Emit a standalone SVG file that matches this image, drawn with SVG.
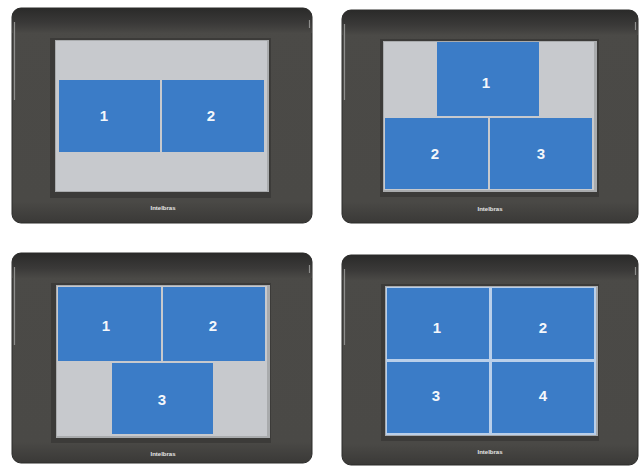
<svg xmlns="http://www.w3.org/2000/svg" width="644" height="466" viewBox="0 0 644 466">
<defs>
<linearGradient id="topband" x1="0" y1="0" x2="0" y2="1">
<stop offset="0" stop-color="#2a2a29"/>
<stop offset="0.6" stop-color="#3a3938"/>
<stop offset="1" stop-color="#4a4946"/>
</linearGradient>
<linearGradient id="bodyg" x1="0" y1="0" x2="0" y2="1">
<stop offset="0" stop-color="#4b4a47"/>
<stop offset="0.9" stop-color="#4a4946"/>
<stop offset="1" stop-color="#3a3937"/>
</linearGradient>
<style>
.body{fill:url(#bodyg);stroke:#2c2c2b;stroke-width:1}
.band{fill:url(#topband)}
.hl{stroke:#8f8f8d;stroke-width:1.2;fill:none}
.recess{fill:#3c3b39}
.frame{fill:#a9abad}
.scr{fill:#c7c9cd}
.tile{fill:#3b7cc7}
.num{font-family:"Liberation Sans",Arial,sans-serif;font-size:15px;font-weight:bold;fill:#f4f7fb;text-anchor:middle}
.logo{font-family:"Liberation Sans",Arial,sans-serif;font-size:6px;font-weight:bold;fill:#e6e6e6;text-anchor:middle}
</style>
</defs>
<rect width="644" height="466" fill="#ffffff"/>

<g id="panel1">
<rect class="body" x="12" y="8" width="300" height="215" rx="9"/>
<path class="band" d="M21,8 H303 A9,9 0 0 1 312,17 V33 H12 V17 A9,9 0 0 1 21,8 Z"/>
<path class="hl" d="M14.5,22 V100"/>
<path class="hl" d="M309.5,20 V28"/>
<rect class="recess" x="50" y="38" width="221" height="160"/>
<rect class="frame" x="55" y="40" width="214" height="152"/>
<rect class="scr" x="56" y="41" width="211" height="150"/>
<rect class="tile" x="59" y="80" width="101" height="72"/>
<rect class="tile" x="162" y="80" width="102" height="72"/>
<text class="num" x="104" y="121">1</text>
<text class="num" x="211" y="121">2</text>
<text class="logo" x="163" y="210">Intelbras</text>
</g>

<g id="panel2">
<rect class="body" x="342" y="10" width="296" height="213" rx="9"/>
<path class="band" d="M351,10 H629 A9,9 0 0 1 638,19 V35 H342 V19 A9,9 0 0 1 351,10 Z"/>
<path class="hl" d="M344.5,24 V100"/>
<path class="hl" d="M635.5,22 V30"/>
<rect class="recess" x="380" y="39" width="219" height="158"/>
<rect class="frame" x="383" y="41" width="214" height="151"/>
<rect class="scr" x="384" y="42" width="210" height="148"/>
<rect class="tile" x="437" y="42" width="102" height="74"/>
<rect class="tile" x="385" y="118" width="103" height="71"/>
<rect class="tile" x="490" y="118" width="102" height="71"/>
<text class="num" x="486" y="88">1</text>
<text class="num" x="435" y="159">2</text>
<text class="num" x="541" y="159">3</text>
<text class="logo" x="490" y="211">Intelbras</text>
</g>

<g id="panel3">
<rect class="body" x="12" y="253" width="300" height="210" rx="9"/>
<path class="band" d="M21,253 H303 A9,9 0 0 1 312,262 V278 H12 V262 A9,9 0 0 1 21,253 Z"/>
<path class="hl" d="M14.5,267 V345"/>
<path class="hl" d="M309.5,265 V273"/>
<rect class="recess" x="51" y="283" width="220" height="160"/>
<rect class="frame" x="56" y="285" width="214" height="153"/>
<rect class="scr" x="57" y="286" width="210" height="150"/>
<rect class="tile" x="58" y="287" width="103" height="74"/>
<rect class="tile" x="163" y="287" width="102" height="74"/>
<rect class="tile" x="112" y="363" width="101" height="71"/>
<text class="num" x="106" y="331">1</text>
<text class="num" x="213" y="331">2</text>
<text class="num" x="162" y="405">3</text>
<text class="logo" x="163" y="456">Intelbras</text>
</g>

<g id="panel4">
<rect class="body" x="342" y="255" width="296" height="210" rx="9"/>
<path class="band" d="M351,255 H629 A9,9 0 0 1 638,264 V280 H342 V264 A9,9 0 0 1 351,255 Z"/>
<path class="hl" d="M344.5,269 V345"/>
<path class="hl" d="M635.5,267 V275"/>
<rect class="recess" x="381" y="284" width="218" height="157"/>
<rect class="frame" x="385" y="286" width="213" height="150"/>
<rect fill="#b9cfea" x="386" y="287" width="210" height="148"/>
<rect class="tile" x="387" y="288" width="102" height="71"/>
<rect class="tile" x="492" y="288" width="102" height="71"/>
<rect class="tile" x="387" y="362" width="102" height="71"/>
<rect class="tile" x="492" y="362" width="102" height="71"/>
<text class="num" x="437" y="333">1</text>
<text class="num" x="543" y="333">2</text>
<text class="num" x="436" y="401">3</text>
<text class="num" x="543" y="401">4</text>
<text class="logo" x="490" y="454">Intelbras</text>
</g>
</svg>
